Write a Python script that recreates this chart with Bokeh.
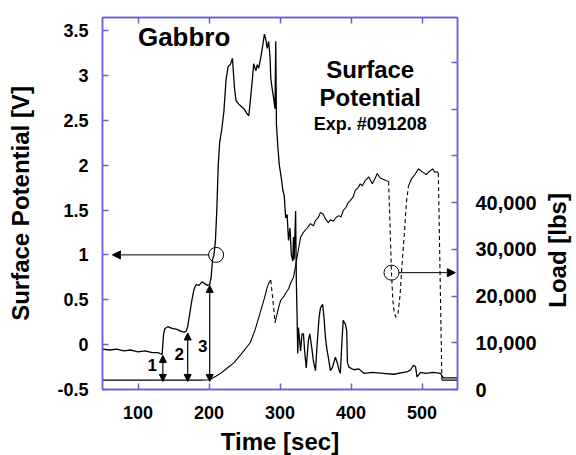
import math
from bokeh.plotting import figure
from bokeh.models import (Range1d, LinearAxis, FixedTicker, CustomJSTickFormatter,
                          Label, Arrow, NormalHead)
from bokeh.embed import file_html
from bokeh.resources import INLINE

# ---------------- data ----------------
pot_t = [50, 60, 70, 80, 90, 100, 110, 120, 128, 134, 136, 138, 142, 148, 155, 160, 165, 168,
         170, 173, 176, 179, 182, 186, 190, 194, 198, 201, 203, 205, 207, 209, 211, 213, 215,
         218, 221, 224, 227, 230, 233, 236, 238, 242, 246, 250, 253, 256, 258, 261, 263, 266,
         268, 270, 273, 276, 278, 280, 282, 284, 286, 287, 289, 291, 293, 294, 295, 297, 299,
         302, 304, 306, 308, 310, 312, 314, 316, 318, 319, 320, 322, 323, 324, 325, 326, 329,
         331, 333, 335, 337, 340, 342, 345, 347, 350, 352, 355, 357, 360, 362, 364, 366, 368,
         371, 374, 378, 381, 383, 385, 387, 389, 392, 394, 395, 397, 404, 411, 418, 430, 445,
         460, 474, 480, 484, 488, 491, 493, 498, 505, 516, 526, 530, 550]
pot_v = [-0.05, -0.06, -0.05, -0.07, -0.06, -0.08, -0.07, -0.09, -0.09, -0.11, 0.12, 0.18, 0.2,
         0.18, 0.17, 0.15, 0.14, 0.15, 0.2, 0.35, 0.5, 0.62, 0.67, 0.66, 0.7, 0.68, 0.66, 0.67,
         0.75, 0.95, 1.0, 1.15, 1.5, 2.0, 2.25, 2.4, 2.6, 2.95, 3.1, 3.12, 3.19, 2.85, 2.72,
         2.68, 2.65, 2.62, 2.58, 2.55, 2.7, 2.95, 3.13, 3.05, 3.12, 3.08, 3.2, 3.35, 3.46, 3.4,
         3.3, 3.38, 3.2, 2.97, 2.85, 2.75, 2.63, 3.38, 2.45, 2.2, 2.0, 1.85, 1.72, 1.66, 1.41,
         1.45, 1.16, 1.3, 1.0, 0.93, 1.2, 0.95, 1.49, 0.71, 0.34, -0.1, 0.19, -0.07, 0.12, 0.12,
         -0.1, -0.26, 0.05, 0.12, -0.05, -0.18, -0.29, -0.03, 0.3, 0.41, 0.45, 0.3, 0.08, -0.05,
         -0.14, -0.29, -0.25, -0.14, -0.21, -0.28, -0.32, 0.0, 0.27, 0.23, 0.15, -0.2, -0.25,
         -0.28, -0.27, -0.32, -0.31, -0.32, -0.33, -0.31, -0.3, -0.28, -0.23, -0.25, -0.36,
         -0.31, -0.32, -0.31, -0.32, -0.37, -0.37]

# load curve, split in solid / dashed pieces
load1_t = [50, 150, 190, 200, 206, 215, 225, 235, 245, 258, 265, 272, 278, 282, 285, 287]
load1_v = [2000, 2000, 2000, 2100, 2500, 3300, 4500, 5700, 7500, 10000, 12800, 16400, 19500,
           21900, 23000, 23400]
load2_t = [287, 291, 293]
load2_v = [23400, 17700, 14300]
load3_t = [293, 298, 301, 305, 308, 312, 315, 319, 322, 325, 329, 333, 338, 343, 347, 350, 354,
           357, 361, 364, 368, 371, 375, 379, 383, 386, 389, 393, 396, 399, 403, 406, 410, 413,
           416, 420, 425, 430, 434, 437, 441, 445, 449, 453]
load3_v = [14300, 17500, 19100, 19800, 20600, 21500, 22800, 24000, 26500, 29100, 32600, 33600,
           34500, 35500, 35000, 36200, 36800, 37900, 37500, 36500, 35700, 36300, 36000, 36800,
           37200, 36900, 38300, 39000, 40000, 40400, 41200, 42600, 43200, 44000, 43600, 44700,
           45500, 44000, 45200, 46200, 45300, 45000, 44700, 44500]
load4_t = [453, 455, 457, 459, 461, 463, 466, 469, 472, 475, 478, 481]
load4_v = [44500, 35000, 25000, 19000, 16500, 15500, 16000, 20000, 27000, 33000, 40000, 43600]
load5_t = [481, 485, 490, 495, 498, 502, 506, 510, 515, 518, 521, 523]
load5_v = [43600, 45000, 46000, 47200, 46800, 46400, 46000, 46600, 47200, 46500, 46600, 46300]
load6_t = [523, 528]
load6_v = [46300, 2000]
load7_t = [528, 550]
load7_v = [2000, 2000]

x_ticks = [100, 200, 300, 400, 500]
v_ticks = [-0.5, 0, 0.5, 1, 1.5, 2, 2.5, 3, 3.5]
load_ticks = [0, 10000, 20000, 30000, 40000, 50000, 60000, 70000]
load_title = "Load [lbs]"
load_title_at = 17500          # load value at which the right-hand title starts

# marker circles / arrows
pot_mark_t, pot_mark_v, pot_arrow_to = 210, 1.0, 64
load_mark_t, load_mark_v, load_arrow_to = 457, 25000, 547
step_t = [135, 170, 201]
step_top = [-0.12, 0.13, 0.66]
step_bottom = -0.41
step_lab = ["1", "2", "3"]
step_lab_t = [120, 158, 191]
step_lab_v = [-0.23, -0.10, -0.01]

BLUE = "#6b5fd6"
FONT = "Liberation Sans"

p = figure(frame_width=355, frame_height=372, x_range=Range1d(50, 550),
           y_range=Range1d(-0.5, 3.645), output_backend="svg", toolbar_location=None,
           min_border_left=102, min_border_right=119, min_border_top=17, min_border_bottom=62,
           x_axis_location=None, y_axis_location=None)
p.extra_y_ranges = {"load": Range1d(0, 79600)}
p.grid.visible = False
p.outline_line_color = BLUE
p.outline_line_width = 1.5
p.background_fill_color = "white"
p.border_fill_color = "white"


def style(ax):
    ax.axis_line_color = BLUE
    ax.axis_line_width = 1.5
    ax.major_tick_line_color = BLUE
    ax.major_tick_line_width = 1.5
    ax.major_tick_in = 6
    ax.major_tick_out = 0
    ax.minor_tick_line_color = None
    ax.major_label_text_font = FONT
    ax.major_label_text_font_style = "bold"
    ax.major_label_text_font_size = "18px"
    ax.major_label_text_color = "black"
    ax.axis_label_text_font = FONT
    ax.axis_label_text_font_style = "bold"
    ax.axis_label_text_font_size = "24px"
    ax.axis_label_text_color = "black"


bottom = LinearAxis(ticker=FixedTicker(ticks=x_ticks), axis_label="Time [sec]")
style(bottom)
bottom.major_label_standoff = 16
bottom.axis_label_standoff = 6
p.add_layout(bottom, "below")

top = LinearAxis(ticker=FixedTicker(ticks=x_ticks),
                 formatter=CustomJSTickFormatter(code="return ''"))
style(top)
top.major_label_text_font_size = "1px"
top.major_label_standoff = 0
p.add_layout(top, "above")

left = LinearAxis(ticker=FixedTicker(ticks=v_ticks), axis_label="Surface Potential [V]",
                  formatter=CustomJSTickFormatter(code="return tick.toString()"))
style(left)
left.major_label_standoff = 14
left.axis_label_standoff = 20
p.add_layout(left, "left")

right = LinearAxis(y_range_name="load", ticker=FixedTicker(ticks=load_ticks),
                   formatter=CustomJSTickFormatter(
                       code="return tick > 40000 ? '' : tick.toLocaleString('en-US')"))
style(right)
right.major_label_text_font_size = "20px"
right.major_label_standoff = 18
p.add_layout(right, "right")

# right-hand title drawn as the single (rotated) label of a bare axis
title_axis = LinearAxis(y_range_name="load", ticker=FixedTicker(ticks=[load_title_at]),
                        formatter=CustomJSTickFormatter(args=dict(t=load_title),
                                                        code="return t"))
style(title_axis)
title_axis.axis_line_color = None
title_axis.major_tick_line_color = None
title_axis.major_tick_in = 0
title_axis.major_label_text_font_size = "24px"
title_axis.major_label_orientation = math.pi / 2
title_axis.major_label_standoff = 18
p.add_layout(title_axis, "right")

# curves
p.line(pot_t, pot_v, line_color="black", line_width=1.3)
for tt, vv, dash in [(load1_t, load1_v, "solid"), (load2_t, load2_v, "4 3"),
                     (load3_t, load3_v, "solid"), (load4_t, load4_v, "4 3"),
                     (load5_t, load5_v, "solid"), (load6_t, load6_v, "4 3"),
                     (load7_t, load7_v, "solid")]:
    p.line(tt, vv, y_range_name="load", line_color="black", line_width=1.1, line_dash=dash)

# markers and arrows
p.scatter([pot_mark_t], [pot_mark_v], marker="circle", size=15, fill_color=None,
          line_color="black", line_width=1)
p.scatter([load_mark_t], [load_mark_v], marker="circle", size=15, fill_color=None,
          line_color="black", line_width=1, y_range_name="load")
p.add_layout(Arrow(end=NormalHead(size=8, fill_color="black", line_color="black"),
                   x_start=pot_mark_t - 10, y_start=pot_mark_v, x_end=pot_arrow_to,
                   y_end=pot_mark_v, line_color="black", line_width=1))
p.add_layout(Arrow(end=NormalHead(size=8, fill_color="black", line_color="black"),
                   x_start=load_mark_t + 10, y_start=load_mark_v, x_end=load_arrow_to,
                   y_end=load_mark_v, y_range_name="load", line_color="black", line_width=1))
for st, top_v in zip(step_t, step_top):
    p.add_layout(Arrow(start=NormalHead(size=7, fill_color="black", line_color="black"),
                       end=NormalHead(size=7, fill_color="black", line_color="black"),
                       x_start=st, y_start=top_v, x_end=st, y_end=step_bottom,
                       line_color="black", line_width=1.2))
for lab, lt, lv in zip(step_lab, step_lab_t, step_lab_v):
    p.add_layout(Label(x=lt, y=lv, text=lab, text_font=FONT, text_font_style="bold",
                       text_color="black", text_font_size="17px", text_align="center",
                       text_baseline="middle"))

# texts
texts = [("Gabbro", 165, 3.43, "26px"), ("Surface", 427, 3.07, "24px"),
         ("Potential", 427, 2.75, "24px"), ("Exp. #091208", 427, 2.46, "18px")]
for txt, tx, ty, fs in texts:
    p.add_layout(Label(x=tx, y=ty, text=txt, text_font=FONT, text_font_style="bold",
                       text_color="black", text_font_size=fs, text_align="center",
                       text_baseline="middle"))

open("out.html", "w").write(file_html(p, INLINE))
